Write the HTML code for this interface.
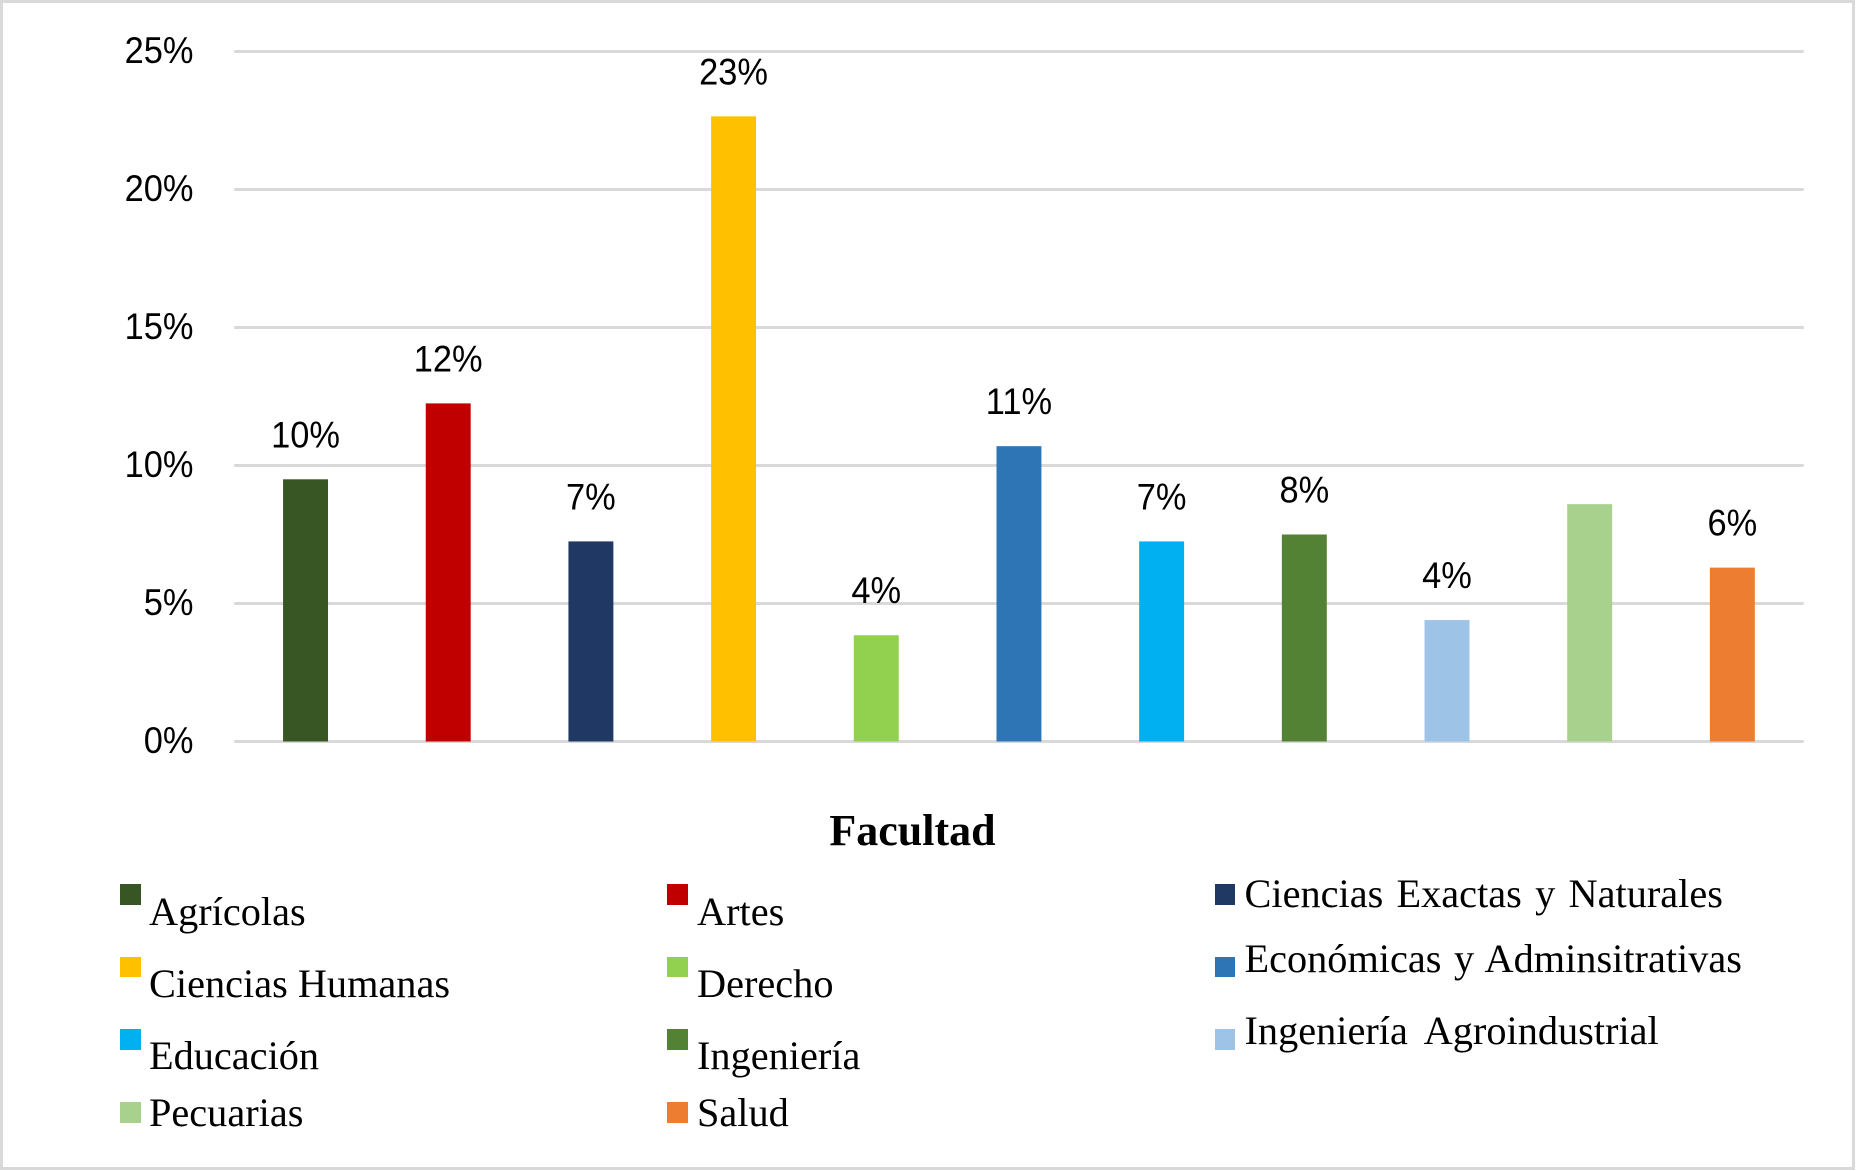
<!DOCTYPE html>
<html lang="es">
<head>
<meta charset="utf-8">
<title>Facultad</title>
<style>
  html, body { margin: 0; padding: 0; background: #fff; }
  svg { display: block; }
  .sans { font-family: "Liberation Sans", Arial, sans-serif; font-size: 37px; fill: #000; }
  .serif { font-family: "Liberation Serif", "Times New Roman", serif; font-size: 40.3px; fill: #000; }
  .title { font-family: "Liberation Serif", "Times New Roman", serif; font-size: 44px; font-weight: bold; fill: #000; }
</style>
</head>
<body>
<svg id="chart" xmlns="http://www.w3.org/2000/svg" width="1856" height="1171" viewBox="0 0 1856 1171">
  <rect x="1.5" y="1.5" width="1852" height="1167" fill="#fff" stroke="#d9d9d9" stroke-width="3"/>
  <g id="grid"></g>
  <g id="yticks"></g>
  <g id="bars"></g>
  <g id="labels"></g>
  <text class="title" x="912.5" y="845" text-anchor="middle">Facultad</text>

  <g>
    <g>
      <rect x="120" y="884" width="21" height="21" fill="#375623"/>
      <text class="serif" x="149" y="925">Agrícolas</text>
    </g>
    <g>
      <rect x="667" y="884" width="21" height="21" fill="#c00000"/>
      <text class="serif" x="697" y="925">Artes</text>
    </g>
    <g>
      <rect x="1215" y="884" width="20" height="21" fill="#1f3864"/>
      <text class="serif" x="1244.5" y="907" word-spacing="3.2">Ciencias Exactas y Naturales</text>
    </g>
    <g>
      <rect x="120" y="957" width="21" height="20" fill="#ffc000"/>
      <text class="serif" x="149" y="997">Ciencias Humanas</text>
    </g>
    <g>
      <rect x="667" y="957" width="21" height="20" fill="#92d050"/>
      <text class="serif" x="697" y="997">Derecho</text>
    </g>
    <g>
      <rect x="1215" y="957" width="20" height="20" fill="#2e75b6"/>
      <text class="serif" x="1244.5" y="972" word-spacing="2.5">Económicas y Adminsitrativas</text>
    </g>
    <g>
      <rect x="120" y="1029" width="21" height="21" fill="#00b0f0"/>
      <text class="serif" x="149" y="1069">Educación</text>
    </g>
    <g>
      <rect x="667" y="1029" width="21" height="21" fill="#548235"/>
      <text class="serif" x="697" y="1069">Ingeniería</text>
    </g>
    <g>
      <rect x="1215" y="1029" width="20" height="21" fill="#9dc3e6"/>
      <text class="serif" x="1244.5" y="1044" word-spacing="8">Ingeniería Agroindustrial</text>
    </g>
    <g>
      <rect x="120" y="1102" width="21" height="21" fill="#a9d18e"/>
      <text class="serif" x="149" y="1126">Pecuarias</text>
    </g>
    <g>
      <rect x="667" y="1102" width="21" height="21" fill="#ed7d31"/>
      <text class="serif" x="697" y="1126">Salud</text>
    </g>
  </g>
</svg>
<script>
const categories = ["Agrícolas", "Artes", "Ciencias Exactas y Naturales", "Ciencias Humanas", "Derecho", "Económicas y Adminsitrativas", "Educación", "Ingeniería", "Ingeniería Agroindustrial", "Pecuarias", "Salud"];
const values = [9.5, 12.25, 7.25, 22.65, 3.85, 10.7, 7.25, 7.5, 4.4, 8.6, 6.3];
const printedLabels = ["10%", "12%", "7%", "23%", "4%", "11%", "7%", "8%", "4%", "", "6%"];
const barColors = ["#375623", "#c00000", "#1f3864", "#ffc000", "#92d050", "#2e75b6", "#00b0f0", "#548235", "#9dc3e6", "#a9d18e", "#ed7d31"];
const yTicks = [0, 5, 10, 15, 20, 25];

const NS = "http://www.w3.org/2000/svg";
const plot = { left: 234.2, right: 1803.7, top: 51.5, bottom: 741.5, yMax: 25 };
const band = (plot.right - plot.left) / categories.length;
const barWidth = band * 0.315;
const xCenter = i => plot.left + band * (i + 0.5);
const yScale = v => plot.bottom - (v / plot.yMax) * (plot.bottom - plot.top);

function make(tag, attrs, parent) {
  const el = document.createElementNS(NS, tag);
  for (const k in attrs) el.setAttribute(k, attrs[k]);
  parent.appendChild(el);
  return el;
}

const gridG = document.getElementById("grid");
const tickG = document.getElementById("yticks");
yTicks.forEach(t => {
  const line = make("line", { x1: plot.left, x2: plot.right, y1: yScale(t), y2: yScale(t), stroke: "#d9d9d9", "stroke-width": 3 }, gridG);
  
  
  const label = make("text", { class: "sans", transform: "translate(193.5," + (yScale(t) + 11.5) + ") scale(0.93,1)", "text-anchor": "end" }, tickG);
  label.textContent = t + "%";
  
  
});

const barG = document.getElementById("bars");
const labelG = document.getElementById("labels");
categories.forEach((c, i) => {
  const y = yScale(values[i]);
  const bar = make("rect", { x: xCenter(i) - barWidth / 2, y: y, width: barWidth, height: plot.bottom - y, fill: barColors[i] }, barG);
  
  
  make("title", {}, bar).textContent = c;
  if (printedLabels[i]) {
    const label = make("text", { class: "sans", transform: "translate(" + xCenter(i) + "," + (y - 32) + ") scale(0.93,1)", "text-anchor": "middle" }, labelG);
    label.textContent = printedLabels[i];
    
    
  }
});
</script>
</body>
</html>
